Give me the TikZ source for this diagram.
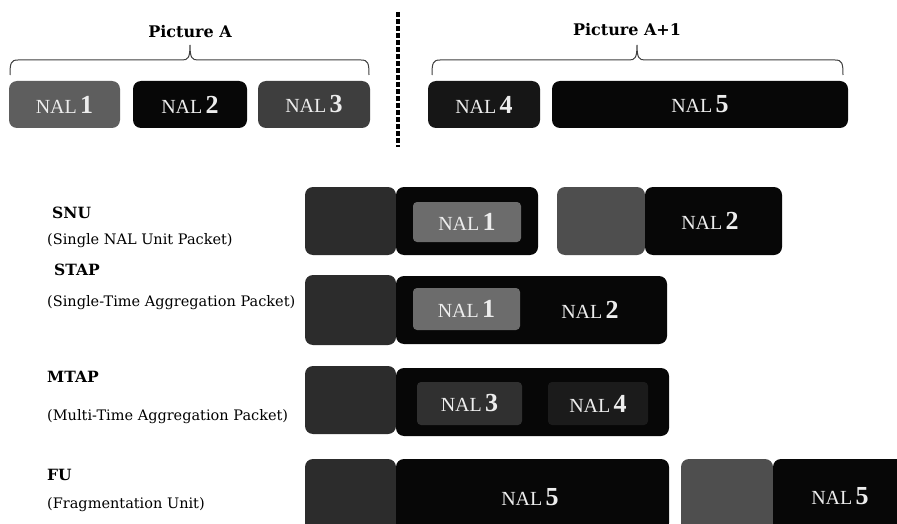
\documentclass[tikz,border=0pt]{standalone}
\usepackage{fontspec}
\setmainfont{Liberation Serif}
\newfontfamily\labfont{DejaVu Serif}
\newfontfamily\nalfont{Liberation Serif}
\definecolor{pktblack}{HTML}{070707}
\definecolor{hdrdark}{HTML}{2C2C2C}
\definecolor{hdrgray}{HTML}{4E4E4E}
\definecolor{innergray}{HTML}{6C6C6C}
\definecolor{nalgrayA}{HTML}{5E5E5E}
\definecolor{nalgrayC}{HTML}{3E3E3E}
\definecolor{nalblackD}{HTML}{161616}
\definecolor{subtleA}{HTML}{303030}
\definecolor{subtleB}{HTML}{1B1B1B}
\definecolor{txtwhite}{HTML}{EDEDED}
\newcommand\naltext[1]{{\nalfont\fontsize{20}{21}\selectfont NAL\,}{\nalfont\fontsize{26}{27}\selectfont\bfseries #1}}
\begin{document}
\begin{tikzpicture}[x=1pt,y=-1pt,
  blk/.style={rounded corners=8pt, inner sep=0pt, draw=none, text=txtwhite},
  inner/.style={rounded corners=4pt, inner sep=0pt, draw=none, text=txtwhite},
  ttl/.style={font=\labfont\bfseries\fontsize{16}{17}\selectfont},
  kind/.style={anchor=west, inner sep=0pt, font=\labfont\bfseries\fontsize{15.5}{17}\selectfont},
  sub/.style={anchor=west, inner sep=0pt, font=\labfont\fontsize{14.5}{16}\selectfont},
  brc/.style={draw=black!75, line width=1pt},
  sep/.style={draw=black, line width=3.6pt, dash pattern=on 5pt off 2pt}]
\clip (0,0) rectangle (897,524);
\fill[white] (0,0) rectangle (897,524);
% ---- top row
\node[blk, fill=nalgrayA, minimum width=111pt, minimum height=47pt] (t1) at (64.5,104.5) {\naltext{1}};
\node[blk, fill=pktblack, minimum width=114pt, minimum height=47pt] (t2) at (190,104.5) {\naltext{2}};
\node[blk, fill=nalgrayC, minimum width=112pt, minimum height=47pt] (t3) at (314,104.5) {\naltext{3}};
\node[blk, fill=nalblackD, minimum width=112pt, minimum height=47pt] (t4) at (484,104.5) {\naltext{4}};
\node[blk, fill=pktblack, minimum width=296pt, minimum height=47pt] (t5) at (700,104.5) {\naltext{5}};
% braces
\draw[brc] (10,75) .. controls (10,63) and (11,60) .. (18,60) -- (182,60) .. controls (188,60) and (190,58) .. (190,45)
  .. controls (190,58) and (192,60) .. (198,60) -- (361,60) .. controls (368,60) and (369,63) .. (369,75);
\draw[brc] (432,75) .. controls (432,63) and (433,60) .. (440,60) -- (629,60) .. controls (635,60) and (637,58) .. (637,45)
  .. controls (637,58) and (639,60) .. (645,60) -- (835,60) .. controls (842,60) and (843,63) .. (843,75);
\node[ttl] (pa) at (190,32) {Picture A};
\node[ttl] (pa1) at (627,30) {Picture A+1};
% separator
\coordinate (sepTop) at (398,12);
\coordinate (sepBot) at (398,147);
\draw[sep] (sepTop) -- (sepBot);
% ---- SNU
\node[kind] (snu) at (52,213) {SNU};
\node[sub] (snus) at (47,241) {(Single NAL Unit Packet)};
\node[blk, fill=hdrdark, minimum width=91pt, minimum height=68pt] (h1) at (350.5,221) {};
\node[blk, fill=pktblack, minimum width=142pt, minimum height=68pt] (p1) at (467,221) {};
\node[inner, fill=innergray, minimum width=108pt, minimum height=40pt] (i1) at (467,222) {\naltext{1}};
\node[blk, fill=hdrgray, minimum width=88pt, minimum height=68pt] (h2) at (601,221) {};
\node[blk, fill=pktblack, minimum width=137pt, minimum height=68pt] (p2) at (713.5,221) {};
\node[text=txtwhite] (l2) at (710,221) {\naltext{2}};
% ---- STAP
\node[kind] (stap) at (54,270) {STAP};
\node[sub] (staps) at (47,303) {(Single-Time Aggregation Packet)};
\node[blk, fill=hdrdark, minimum width=91pt, minimum height=70pt] (h3) at (350.5,310) {};
\node[blk, fill=pktblack, minimum width=271pt, minimum height=68pt] (p3) at (531.5,310) {};
\node[inner, fill=innergray, minimum width=107pt, minimum height=42pt] (i3) at (466.5,309) {\naltext{1}};
\node[text=txtwhite] (l3) at (590,310) {\naltext{2}};
% ---- MTAP
\node[kind] (mtap) at (47,377) {MTAP};
\node[sub] (mtaps) at (47,417) {(Multi-Time Aggregation Packet)};
\node[blk, fill=hdrdark, minimum width=91pt, minimum height=68pt] (h4) at (350.5,400) {};
\node[blk, fill=pktblack, minimum width=273pt, minimum height=68pt] (p4) at (532.5,402) {};
\node[inner, fill=subtleA, minimum width=105pt, minimum height=43pt] (i4) at (469.5,403.5) {\naltext{3}};
\node[inner, fill=subtleB, minimum width=100pt, minimum height=43pt] (i5) at (598,403.5) {\naltext{4}};
% ---- FU
\node[kind] (fu) at (47,475) {FU};
\node[sub] (fus) at (47,505) {(Fragmentation Unit)};
\node[blk, fill=hdrdark, minimum width=91pt, minimum height=72pt] (h6) at (350.5,495) {};
\node[blk, fill=pktblack, minimum width=273pt, minimum height=72pt] (p6) at (532.5,495) {};
\node[text=txtwhite] (l6) at (530,497) {\naltext{5}};
\node[blk, fill=hdrgray, minimum width=92pt, minimum height=72pt] (h7) at (727,495) {};
\node[blk, fill=pktblack, minimum width=140pt, minimum height=72pt] (p7) at (843,495) {};
\node[text=txtwhite] (l7) at (840,496) {\naltext{5}};
\end{tikzpicture}
\end{document}
